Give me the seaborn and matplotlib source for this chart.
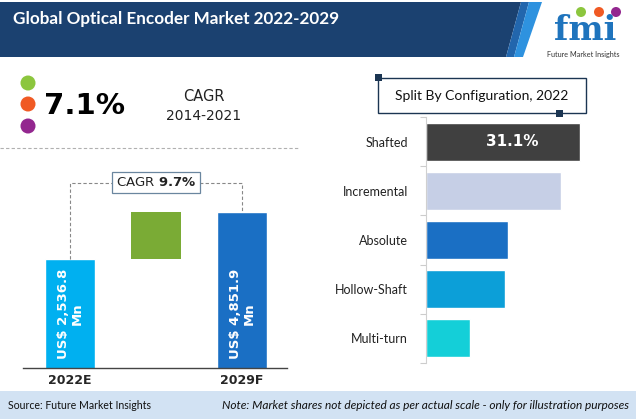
import matplotlib
matplotlib.use("Agg")
import matplotlib.pyplot as plt
from matplotlib import font_manager
from matplotlib.patches import Polygon, Rectangle, Circle
import seaborn as sns
import pandas as pd

# ---------------- data ----------------
periods = ["2022E", "2029F"]
market_values = [2536.8, 4851.9]          # US$ Mn
market_labels = ["US$ 2,536.8\nMn", "US$ 4,851.9\nMn"]
forecast_cagr = "9.7%"
hist_cagr = "7.1%"
hist_period = "2014-2021"

configs = ["Shafted", "Incremental", "Absolute", "Hollow-Shaft", "Multi-turn"]
config_shares = [31.1, 27.3, 16.6, 16.0, 8.9]
config_label = "31.1%"

# ---------------- fonts ----------------
sns.set_style("white")
avail = {f.name for f in font_manager.fontManager.ttflist}
def pick(*names):
    for n in names:
        if n in avail:
            return n
    return "DejaVu Sans"
NARROW = pick("Liberation Sans Narrow", "Lato", "Open Sans")
MAIN = pick("Lato", "Open Sans", "DejaVu Sans")
plt.rcParams["font.family"] = [MAIN, "DejaVu Sans"]

W, H = 636, 419
fig = plt.figure(figsize=(W / 100, H / 100), dpi=100)

def rect(l, t, r, b):
    return [l / W, (H - b) / H, (r - l) / W, (b - t) / H]

# ---------------- overlay (decoration) ----------------
ov = fig.add_axes([0, 0, 1, 1], zorder=0)
ov.set_xlim(0, W)
ov.set_ylim(H, 0)
ov.axis("off")

# header band
ov.add_patch(Polygon([(0, 2), (521, 2), (506, 57), (0, 57)], closed=True, color="#1b4170", lw=0))
ov.add_patch(Polygon([(521, 2), (529, 2), (514, 57), (506, 57)], closed=True, color="#2266ad", lw=0))
ov.add_patch(Polygon([(529, 2), (542, 2), (523, 57), (514, 57)], closed=True, color="#2e92df", lw=0))
ov.text(13, 19, "Global Optical Encoder Market 2022-2029", color="white", fontsize=12.3,
        fontweight="bold", family=[NARROW, "DejaVu Sans"], va="center", ha="left")

# logo
for cx, col in [(581, "#8cc63e"), (599, "#f05a24"), (616, "#93278f")]:
    ov.add_patch(Circle((cx, 12), 5, color=col, lw=0))
ov.text(585, 31, "fmi", color="#1f74bd", fontsize=24, fontweight="bold",
        family="DejaVu Serif", ha="center", va="center")
ov.text(583, 54.5, "Future Market Insights", color="#333333", fontsize=5.2,
        ha="center", va="center")

# historic CAGR block
for cy, col in [(83, "#8cc63e"), (104, "#f05a24"), (126, "#93278f")]:
    ov.add_patch(Circle((28, cy), 7.5, color=col, lw=0))
ov.text(85, 106, hist_cagr, fontsize=21, fontweight="bold", color="black",
        family="DejaVu Sans", ha="center", va="center")
ov.text(204, 96, "CAGR", fontsize=10.5, color="#222222", family="DejaVu Sans",
        ha="center", va="center")
ov.text(204, 116, hist_period, fontsize=10, color="#222222", family="DejaVu Sans",
        ha="center", va="center")
ov.plot([0, 300], [148, 148], color="#b0b0b0", lw=0.8, ls=(0, (3, 2)))

# right title box
ov.add_patch(Rectangle((378, 78), 208, 35, fill=False, ec="#1b3552", lw=1))
ov.add_patch(Rectangle((374.5, 74.5), 7, 7, color="#1b3552", lw=0))
ov.add_patch(Rectangle((555.5, 109.5), 7, 7, color="#1b3552", lw=0))
ov.text(482, 95.5, "Split By Configuration, 2022", fontsize=10, color="#111111",
        family=[NARROW, "DejaVu Sans"], ha="center", va="center")

# footer
ov.add_patch(Rectangle((0, 391), W, 28, color="#d2e2f3", lw=0))
ov.text(8, 405, "Source: Future Market Insights", fontsize=7.6, color="#111111",
        family=[NARROW, "DejaVu Sans"], ha="left", va="center")
ov.text(629, 405, "Note: Market shares not depicted as per actual scale - only for illustration purposes",
        fontsize=8.6, color="#111111", style="italic", family=[NARROW, "DejaVu Sans"],
        ha="right", va="center")

# ---------------- left: market size bars ----------------
axL = fig.add_axes(rect(23, 170, 287, 368), zorder=2)
axL.patch.set_alpha(0)
dfL = pd.DataFrame({"period": periods, "value": market_values})
order = [periods[0], " ", periods[1]]
sns.barplot(data=dfL, x="period", y="value", hue="period", order=order,
            palette={periods[0]: "#00b0f0", periods[1]: "#1a6fc4"},
            width=0.58, saturation=1, legend=False, ax=axL)
axL.bar(1, market_values[1] - market_values[0], bottom=market_values[0], width=0.58,
        color="#7aab35", lw=0)
axL.set_yscale("log")
axL.set_ylim(560, 8700)
axL.set_xlim(-0.547, 2.523)
axL.set_xlabel("")
axL.set_ylabel("")
axL.set_yticks([])
axL.yaxis.set_minor_locator(matplotlib.ticker.NullLocator())
axL.set_xticks([0, 2])
axL.set_xticklabels(periods, fontweight="bold", fontsize=9, family="DejaVu Sans")
axL.tick_params(axis="x", length=0, pad=4)
for s in ["top", "right", "left"]:
    axL.spines[s].set_visible(False)
axL.spines["bottom"].set_color("#444444")
axL.spines["bottom"].set_linewidth(1)

# labels inside bars
tr = matplotlib.transforms.blended_transform_factory(axL.transData, axL.transAxes)
for xi, lab in zip([0, 2], market_labels):
    axL.text(xi, 0.273, lab, transform=tr, rotation=90, color="white", fontsize=9.5,
             fontweight="bold", family="DejaVu Sans", ha="center", va="center",
             linespacing=1.1)

# CAGR bracket
ybr = 7300
axL.plot([0, 0, 2, 2], [market_values[0], ybr, ybr, market_values[1]],
         color="#888888", lw=0.8, ls=(0, (3, 2)), zorder=1)
axL.text(1, ybr, "CAGR $\\bf{" + forecast_cagr.replace("%", "\\%") + "}$", fontsize=9.5,
         family="DejaVu Sans", ha="center", va="center", color="#222222",
         bbox=dict(boxstyle="square,pad=0.3", fc="white", ec="#6a869f", lw=0.9), zorder=3)

# ---------------- right: configuration split ----------------
axR = fig.add_axes(rect(426, 117.5, 600, 362.5), zorder=2)
axR.patch.set_alpha(0)
dfR = pd.DataFrame({"config": configs, "share": config_shares})
sns.barplot(data=dfR, x="share", y="config", hue="config", orient="h",
            palette=["#404040", "#c6cfe6", "#1a6fc4", "#0c9fd8", "#14cfd8"],
            width=0.78, saturation=1, legend=False, ax=axR)
axR.set_xlim(0, config_shares[0] * (600 - 426) / 154)
axR.set_ylim(4.5, -0.5)
axR.set_xlabel("")
axR.set_ylabel("")
axR.set_xticks([])
axR.set_yticks(range(len(configs)))
axR.set_yticklabels(configs, fontsize=9, color="#222222", family=[NARROW, "DejaVu Sans"])
axR.set_yticks([i - 0.5 for i in range(len(configs) + 1)], minor=True)
axR.tick_params(axis="y", which="major", length=0, pad=13)
axR.tick_params(axis="y", which="minor", length=4, width=0.8, color="#cccccc", left=True)
for s in ["top", "right", "bottom"]:
    axR.spines[s].set_visible(False)
axR.spines["left"].set_color("#d0d0d0")
axR.spines["left"].set_linewidth(0.8)
axR.text(config_shares[0] * 0.56, 0, config_label, color="white", fontsize=11,
         fontweight="bold", family="DejaVu Sans", ha="center", va="center")

fig.savefig("out.png", dpi=100)
